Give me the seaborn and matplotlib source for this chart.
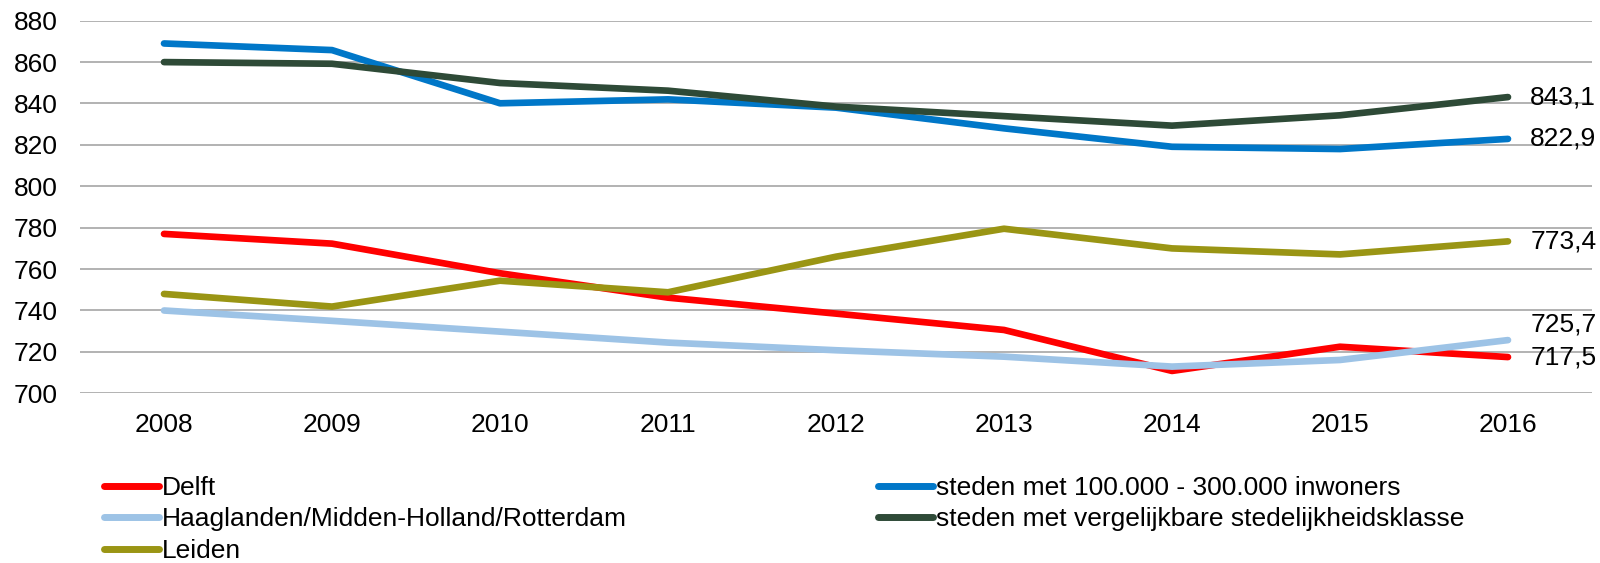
import numpy as np
import pandas as pd
import matplotlib
matplotlib.use("Agg")
import matplotlib.pyplot as plt
import seaborn as sns

# data
years = [2008, 2009, 2010, 2011, 2012, 2013, 2014, 2015, 2016]
delft = [777.0, 772.3, 758.0, 746.2, 738.5, 730.6, 710.8, 722.5, 717.5]
haaglanden = [740.0, 735.0, 729.8, 724.5, 720.8, 717.7, 712.9, 716.1, 725.7]
leiden = [748.0, 741.9, 754.4, 748.8, 766.0, 779.5, 770.0, 767.1, 773.4]
steden_100k = [869.0, 865.8, 840.1, 842.0, 838.0, 828.0, 819.1, 818.0, 822.9]
steden_vergelijkbaar = [860.0, 859.2, 849.9, 846.2, 838.5, 833.9, 829.3, 834.3, 843.1]

series_names = ["Delft",
                "Haaglanden/Midden-Holland/Rotterdam",
                "Leiden",
                "steden met 100.000 - 300.000 inwoners",
                "steden met vergelijkbare stedelijkheidsklasse"]
series_values = [delft, haaglanden, leiden, steden_100k, steden_vergelijkbaar]
colors = ["#ff0000", "#9dc3e6", "#9a9514", "#0077c8", "#2e4a37"]
# vertical nudge (points) of the end labels so they don't collide
label_dy = [0, 11, 0, 0, 0]

rows = []
for name, vals in zip(series_names, series_values):
    for yr, v in zip(years, vals):
        rows.append((name, yr, v))
df = pd.DataFrame(rows, columns=["reeks", "jaar", "waarde"])

sns.set_theme(style="white")
plt.rcParams["font.family"] = ["Liberation Sans", "DejaVu Sans"]
fs = 19
plt.rcParams["font.size"] = fs
plt.rcParams["text.color"] = "black"
plt.rcParams["xtick.color"] = "black"
plt.rcParams["ytick.color"] = "black"

fig = plt.figure(figsize=(16, 5.63), dpi=100)
ax = fig.add_axes([80 / 1600, 1 - 393.3 / 563, (1592 - 80) / 1600, (393.3 - 20.7) / 563])

sns.lineplot(data=df, x="jaar", y="waarde", hue="reeks", hue_order=series_names,
             palette=colors, linewidth=4.8, ax=ax, solid_capstyle="round")

ax.set_xlim(2007.5, 2016.5)
ax.set_ylim(700, 880)
ax.set_yticks(np.arange(700, 881, 20))
ax.set_xticks(years)
ax.set_xticklabels([str(y) for y in years], fontsize=fs)
ax.set_yticklabels([str(v) for v in range(700, 881, 20)], fontsize=fs)
ax.yaxis.grid(True, color="#a6a6a6", linewidth=1.2)
ax.set_axisbelow(True)
ax.tick_params(axis="y", length=0, pad=16)
ax.tick_params(axis="x", length=0, pad=14)
for s in ax.spines.values():
    s.set_visible(False)
ax.set_xlabel("")
ax.set_ylabel("")

# end labels
for vals, dy in zip(series_values, label_dy):
    lbl = f"{vals[-1]:.1f}".replace(".", ",")
    ax.annotate(lbl, xy=(years[-1], vals[-1]), xytext=(16, dy), textcoords="offset points",
                ha="left", va="center", fontsize=fs, color="black", annotation_clip=False)

handles, labels = ax.get_legend_handles_labels()
ax.get_legend().remove()
for h in handles:
    h.set_linewidth(5)
    h.set_solid_capstyle("round")
fig.legend(handles, labels, loc="upper left", bbox_to_anchor=(104 / 1600, 1 - 476 / 563),
           ncol=2, frameon=False, fontsize=fs, handlelength=2.1, handletextpad=0.1,
           columnspacing=9.5, labelspacing=0.28, borderpad=0, borderaxespad=0)

fig.savefig("out.png", dpi=100)
